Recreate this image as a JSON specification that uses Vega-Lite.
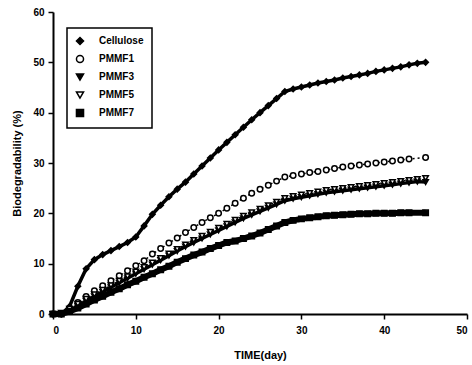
{
  "$schema": "https://vega.github.io/schema/vega-lite/v6.json",
  "autosize": {"type": "none"},
  "width": 414,
  "height": 302,
  "padding": {"left": 53, "top": 12, "right": 5, "bottom": 51},
  "background": "white",
  "config": {
    "view": {"stroke": null},
    "font": "Liberation Sans",
    "axis": {"grid": false, "domainColor": "black", "domainWidth": 2, "tickColor": "black", "tickWidth": 1.5, "tickSize": 5, "labelFont": "Liberation Sans", "labelFontWeight": "bold", "labelFontSize": 10, "labelColor": "black", "titleFont": "Liberation Sans", "titleFontWeight": "bold", "titleFontSize": 11, "titleColor": "black"},
    "legend": {"strokeWidth": 1.5}
  },
  "data": {"values": [
    {"day":0,"v":0,"s":"Cellulose"},{"day":1,"v":0,"s":"Cellulose"},{"day":2,"v":1.5,"s":"Cellulose"},{"day":3,"v":5.5,"s":"Cellulose"},{"day":4,"v":9,"s":"Cellulose"},{"day":5,"v":10.8,"s":"Cellulose"},{"day":6,"v":11.8,"s":"Cellulose"},{"day":7,"v":12.6,"s":"Cellulose"},{"day":8,"v":13.4,"s":"Cellulose"},{"day":9,"v":14.2,"s":"Cellulose"},{"day":10,"v":15.3,"s":"Cellulose"},{"day":11,"v":17.5,"s":"Cellulose"},{"day":12,"v":19.8,"s":"Cellulose"},{"day":13,"v":21.6,"s":"Cellulose"},{"day":14,"v":23.3,"s":"Cellulose"},{"day":15,"v":24.8,"s":"Cellulose"},{"day":16,"v":26.2,"s":"Cellulose"},{"day":17,"v":27.8,"s":"Cellulose"},{"day":18,"v":29.4,"s":"Cellulose"},{"day":19,"v":31,"s":"Cellulose"},{"day":20,"v":32.6,"s":"Cellulose"},{"day":21,"v":34.1,"s":"Cellulose"},{"day":22,"v":35.6,"s":"Cellulose"},{"day":23,"v":37.1,"s":"Cellulose"},{"day":24,"v":38.6,"s":"Cellulose"},{"day":25,"v":40,"s":"Cellulose"},{"day":26,"v":41.4,"s":"Cellulose"},{"day":27,"v":42.8,"s":"Cellulose"},{"day":28,"v":44.2,"s":"Cellulose"},{"day":29,"v":44.7,"s":"Cellulose"},{"day":30,"v":45.1,"s":"Cellulose"},{"day":31,"v":45.5,"s":"Cellulose"},{"day":32,"v":45.9,"s":"Cellulose"},{"day":33,"v":46.2,"s":"Cellulose"},{"day":34,"v":46.5,"s":"Cellulose"},{"day":35,"v":46.9,"s":"Cellulose"},{"day":36,"v":47.2,"s":"Cellulose"},{"day":37,"v":47.5,"s":"Cellulose"},{"day":38,"v":47.8,"s":"Cellulose"},{"day":39,"v":48.2,"s":"Cellulose"},{"day":40,"v":48.5,"s":"Cellulose"},{"day":41,"v":48.8,"s":"Cellulose"},{"day":42,"v":49.1,"s":"Cellulose"},{"day":43,"v":49.5,"s":"Cellulose"},{"day":44,"v":49.8,"s":"Cellulose"},{"day":45,"v":50,"s":"Cellulose"},

    {"day":0,"v":0,"s":"PMMF1"},{"day":1,"v":0,"s":"PMMF1"},{"day":2,"v":1,"s":"PMMF1"},{"day":3,"v":2.3,"s":"PMMF1"},{"day":4,"v":3.5,"s":"PMMF1"},{"day":5,"v":4.6,"s":"PMMF1"},{"day":6,"v":5.6,"s":"PMMF1"},{"day":7,"v":6.6,"s":"PMMF1"},{"day":8,"v":7.6,"s":"PMMF1"},{"day":9,"v":8.6,"s":"PMMF1"},{"day":10,"v":9.6,"s":"PMMF1"},{"day":11,"v":10.6,"s":"PMMF1"},{"day":12,"v":11.9,"s":"PMMF1"},{"day":13,"v":13,"s":"PMMF1"},{"day":14,"v":14.1,"s":"PMMF1"},{"day":15,"v":15.1,"s":"PMMF1"},{"day":16,"v":16.2,"s":"PMMF1"},{"day":17,"v":17.2,"s":"PMMF1"},{"day":18,"v":18.2,"s":"PMMF1"},{"day":19,"v":19.1,"s":"PMMF1"},{"day":20,"v":20,"s":"PMMF1"},{"day":21,"v":21,"s":"PMMF1"},{"day":22,"v":22,"s":"PMMF1"},{"day":23,"v":23,"s":"PMMF1"},{"day":24,"v":24,"s":"PMMF1"},{"day":25,"v":24.8,"s":"PMMF1"},{"day":26,"v":25.6,"s":"PMMF1"},{"day":27,"v":26.4,"s":"PMMF1"},{"day":28,"v":27.2,"s":"PMMF1"},{"day":29,"v":27.5,"s":"PMMF1"},{"day":30,"v":27.8,"s":"PMMF1"},{"day":31,"v":28.1,"s":"PMMF1"},{"day":32,"v":28.3,"s":"PMMF1"},{"day":33,"v":28.6,"s":"PMMF1"},{"day":34,"v":28.9,"s":"PMMF1"},{"day":35,"v":29.2,"s":"PMMF1"},{"day":36,"v":29.4,"s":"PMMF1"},{"day":37,"v":29.6,"s":"PMMF1"},{"day":38,"v":29.8,"s":"PMMF1"},{"day":39,"v":30,"s":"PMMF1"},{"day":40,"v":30.2,"s":"PMMF1"},{"day":41,"v":30.4,"s":"PMMF1"},{"day":42,"v":30.6,"s":"PMMF1"},{"day":43,"v":30.8,"s":"PMMF1"},{"day":45,"v":31.1,"s":"PMMF1"},

    {"day":0,"v":0,"s":"PMMF3"},{"day":1,"v":0,"s":"PMMF3"},{"day":2,"v":0.6,"s":"PMMF3"},{"day":3,"v":1.6,"s":"PMMF3"},{"day":4,"v":2.6,"s":"PMMF3"},{"day":5,"v":3.5,"s":"PMMF3"},{"day":6,"v":4.4,"s":"PMMF3"},{"day":7,"v":5.3,"s":"PMMF3"},{"day":8,"v":6.2,"s":"PMMF3"},{"day":9,"v":7.1,"s":"PMMF3"},{"day":10,"v":8,"s":"PMMF3"},{"day":11,"v":8.9,"s":"PMMF3"},{"day":12,"v":9.8,"s":"PMMF3"},{"day":13,"v":10.7,"s":"PMMF3"},{"day":14,"v":11.6,"s":"PMMF3"},{"day":15,"v":12.5,"s":"PMMF3"},{"day":16,"v":13.4,"s":"PMMF3"},{"day":17,"v":14.2,"s":"PMMF3"},{"day":18,"v":15,"s":"PMMF3"},{"day":19,"v":15.8,"s":"PMMF3"},{"day":20,"v":16.6,"s":"PMMF3"},{"day":21,"v":17.4,"s":"PMMF3"},{"day":22,"v":18.2,"s":"PMMF3"},{"day":23,"v":19,"s":"PMMF3"},{"day":24,"v":19.7,"s":"PMMF3"},{"day":25,"v":20.4,"s":"PMMF3"},{"day":26,"v":21.1,"s":"PMMF3"},{"day":27,"v":21.8,"s":"PMMF3"},{"day":28,"v":22.5,"s":"PMMF3"},{"day":29,"v":22.9,"s":"PMMF3"},{"day":30,"v":23.2,"s":"PMMF3"},{"day":31,"v":23.5,"s":"PMMF3"},{"day":32,"v":23.8,"s":"PMMF3"},{"day":33,"v":24.1,"s":"PMMF3"},{"day":34,"v":24.3,"s":"PMMF3"},{"day":35,"v":24.5,"s":"PMMF3"},{"day":36,"v":24.7,"s":"PMMF3"},{"day":37,"v":24.9,"s":"PMMF3"},{"day":38,"v":25.1,"s":"PMMF3"},{"day":39,"v":25.3,"s":"PMMF3"},{"day":40,"v":25.5,"s":"PMMF3"},{"day":41,"v":25.7,"s":"PMMF3"},{"day":42,"v":25.9,"s":"PMMF3"},{"day":43,"v":26.1,"s":"PMMF3"},{"day":44,"v":26.3,"s":"PMMF3"},{"day":45,"v":26.2,"s":"PMMF3"},

    {"day":0,"v":0,"s":"PMMF5"},{"day":1,"v":0.2,"s":"PMMF5"},{"day":2,"v":1,"s":"PMMF5"},{"day":3,"v":2,"s":"PMMF5"},{"day":4,"v":3,"s":"PMMF5"},{"day":5,"v":3.9,"s":"PMMF5"},{"day":6,"v":4.8,"s":"PMMF5"},{"day":7,"v":5.7,"s":"PMMF5"},{"day":8,"v":6.6,"s":"PMMF5"},{"day":9,"v":7.5,"s":"PMMF5"},{"day":10,"v":8.4,"s":"PMMF5"},{"day":11,"v":9.3,"s":"PMMF5"},{"day":12,"v":10.2,"s":"PMMF5"},{"day":13,"v":11.1,"s":"PMMF5"},{"day":14,"v":12,"s":"PMMF5"},{"day":15,"v":12.9,"s":"PMMF5"},{"day":16,"v":13.8,"s":"PMMF5"},{"day":17,"v":14.7,"s":"PMMF5"},{"day":18,"v":15.5,"s":"PMMF5"},{"day":19,"v":16.3,"s":"PMMF5"},{"day":20,"v":17.1,"s":"PMMF5"},{"day":21,"v":17.9,"s":"PMMF5"},{"day":22,"v":18.7,"s":"PMMF5"},{"day":23,"v":19.5,"s":"PMMF5"},{"day":24,"v":20.2,"s":"PMMF5"},{"day":25,"v":20.9,"s":"PMMF5"},{"day":26,"v":21.6,"s":"PMMF5"},{"day":27,"v":22.3,"s":"PMMF5"},{"day":28,"v":23,"s":"PMMF5"},{"day":29,"v":23.4,"s":"PMMF5"},{"day":30,"v":23.7,"s":"PMMF5"},{"day":31,"v":24,"s":"PMMF5"},{"day":32,"v":24.3,"s":"PMMF5"},{"day":33,"v":24.6,"s":"PMMF5"},{"day":34,"v":24.8,"s":"PMMF5"},{"day":35,"v":25,"s":"PMMF5"},{"day":36,"v":25.2,"s":"PMMF5"},{"day":37,"v":25.4,"s":"PMMF5"},{"day":38,"v":25.6,"s":"PMMF5"},{"day":39,"v":25.8,"s":"PMMF5"},{"day":40,"v":26,"s":"PMMF5"},{"day":41,"v":26.2,"s":"PMMF5"},{"day":42,"v":26.4,"s":"PMMF5"},{"day":43,"v":26.6,"s":"PMMF5"},{"day":44,"v":26.8,"s":"PMMF5"},{"day":45,"v":27,"s":"PMMF5"},

    {"day":0,"v":0,"s":"PMMF7"},{"day":1,"v":0,"s":"PMMF7"},{"day":2,"v":0.5,"s":"PMMF7"},{"day":3,"v":1.2,"s":"PMMF7"},{"day":4,"v":2,"s":"PMMF7"},{"day":5,"v":2.8,"s":"PMMF7"},{"day":6,"v":3.5,"s":"PMMF7"},{"day":7,"v":4.3,"s":"PMMF7"},{"day":8,"v":5,"s":"PMMF7"},{"day":9,"v":5.8,"s":"PMMF7"},{"day":10,"v":6.5,"s":"PMMF7"},{"day":11,"v":7.3,"s":"PMMF7"},{"day":12,"v":8,"s":"PMMF7"},{"day":13,"v":8.8,"s":"PMMF7"},{"day":14,"v":9.5,"s":"PMMF7"},{"day":15,"v":10.3,"s":"PMMF7"},{"day":16,"v":11,"s":"PMMF7"},{"day":17,"v":11.7,"s":"PMMF7"},{"day":18,"v":12.3,"s":"PMMF7"},{"day":19,"v":13,"s":"PMMF7"},{"day":20,"v":13.6,"s":"PMMF7"},{"day":21,"v":14.2,"s":"PMMF7"},{"day":22,"v":14.5,"s":"PMMF7"},{"day":23,"v":15,"s":"PMMF7"},{"day":24,"v":15.5,"s":"PMMF7"},{"day":25,"v":16.1,"s":"PMMF7"},{"day":26,"v":16.8,"s":"PMMF7"},{"day":27,"v":17.5,"s":"PMMF7"},{"day":28,"v":18.2,"s":"PMMF7"},{"day":29,"v":18.6,"s":"PMMF7"},{"day":30,"v":18.9,"s":"PMMF7"},{"day":31,"v":19.1,"s":"PMMF7"},{"day":32,"v":19.3,"s":"PMMF7"},{"day":33,"v":19.5,"s":"PMMF7"},{"day":34,"v":19.6,"s":"PMMF7"},{"day":35,"v":19.7,"s":"PMMF7"},{"day":36,"v":19.8,"s":"PMMF7"},{"day":37,"v":19.9,"s":"PMMF7"},{"day":38,"v":19.9,"s":"PMMF7"},{"day":39,"v":20,"s":"PMMF7"},{"day":40,"v":20,"s":"PMMF7"},{"day":41,"v":20,"s":"PMMF7"},{"day":42,"v":20.1,"s":"PMMF7"},{"day":43,"v":20.1,"s":"PMMF7"},{"day":45,"v":20.1,"s":"PMMF7"}
  ]},
  "encoding": {
    "x": {"field": "day", "type": "quantitative", "scale": {"domain": [0, 50], "nice": false}, "axis": {"values": [0,10,20,30,40,50], "title": "TIME(day)", "titlePadding": 14, "labelPadding": 6}},
    "y": {"field": "v", "type": "quantitative", "scale": {"domain": [0, 60], "nice": false}, "axis": {"values": [0,10,20,30,40,50,60], "title": "Biodegradability (%)", "titlePadding": 10, "labelPadding": 4}}
  },
  "layer": [
    {
      "transform": [{"filter": "datum.s === 'Cellulose' || datum.s === 'PMMF3'"}],
      "mark": {"type": "line", "color": "black", "strokeWidth": 3.5},
      "encoding": {"detail": {"field": "s"}}
    },
    {
      "transform": [{"filter": "datum.s === 'PMMF7'"}],
      "mark": {"type": "line", "color": "black", "strokeWidth": 6},
      "encoding": {"detail": {"field": "s"}}
    },
    {
      "transform": [{"filter": "datum.s === 'PMMF1' || datum.s === 'PMMF5'"}],
      "mark": {"type": "line", "color": "black", "strokeWidth": 1.5, "strokeDash": [2, 3]},
      "encoding": {"detail": {"field": "s"}}
    },
    {
      "mark": {"type": "point", "stroke": "black", "strokeWidth": 1.5, "opacity": 1, "size": 30},
      "encoding": {
        "shape": {"field": "s", "type": "nominal", "title": null, "scale": {"domain": ["Cellulose","PMMF1","PMMF3","PMMF5","PMMF7"], "range": ["diamond","circle","triangle-down","triangle-down","square"]},
          "legend": {"orient": "none", "legendX": 14, "legendY": 16, "strokeColor": "black", "padding": 8, "rowPadding": 4, "labelFont": "Liberation Sans", "labelFontWeight": "bold", "labelFontSize": 10, "labelColor": "black", "symbolSize": 50, "labelOffset": 14, "fillColor": "white",
            "encode": {"symbols": {"stroke": {"value": "black"}, "strokeWidth": {"value": 1.5}}}}},
        "fill": {"field": "s", "type": "nominal", "title": null, "scale": {"domain": ["Cellulose","PMMF1","PMMF3","PMMF5","PMMF7"], "range": ["black","white","black","white","black"]},
          "legend": {"orient": "none", "legendX": 14, "legendY": 16, "strokeColor": "black", "padding": 8, "rowPadding": 4, "labelFont": "Liberation Sans", "labelFontWeight": "bold", "labelFontSize": 10, "labelColor": "black", "symbolSize": 50, "labelOffset": 14, "fillColor": "white",
            "encode": {"symbols": {"stroke": {"value": "black"}, "strokeWidth": {"value": 1.5}}}}}
      }
    }
  ]
}
